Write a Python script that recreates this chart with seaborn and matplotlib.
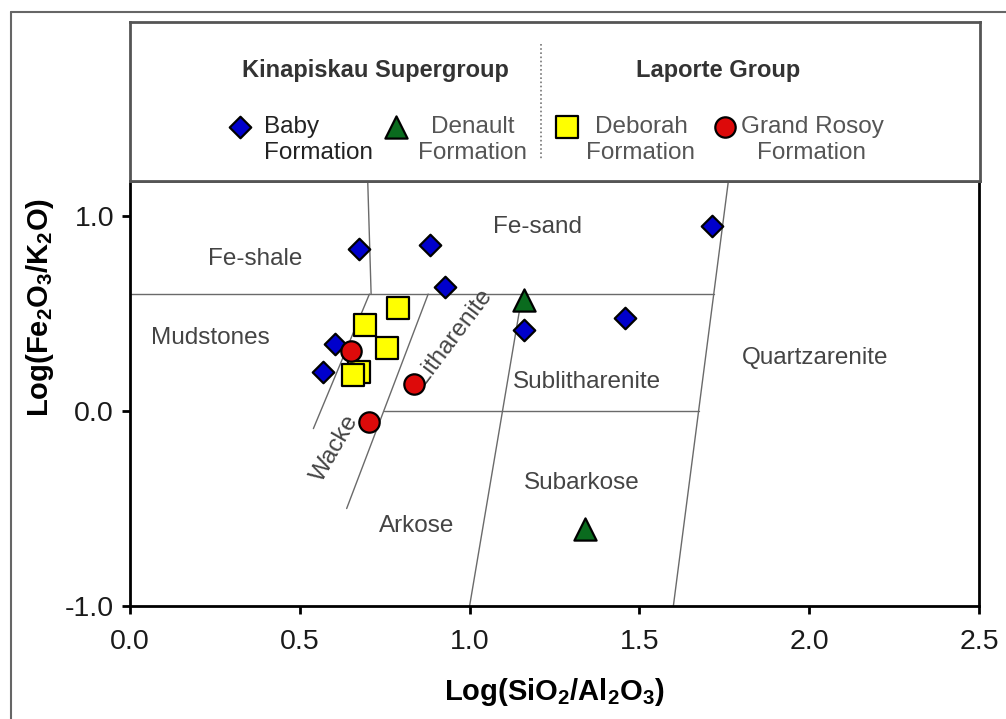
import numpy as np
import pandas as pd
import matplotlib
matplotlib.use("Agg")
import matplotlib.pyplot as plt
from matplotlib.lines import Line2D
import seaborn as sns

# ---------------- data ----------------
baby_x = [0.674, 0.883, 0.928, 1.714, 1.458, 1.160, 0.604, 0.568]
baby_y = [0.830, 0.850, 0.636, 0.949, 0.477, 0.415, 0.344, 0.200]

denault_x = [1.160, 1.340]
denault_y = [0.569, -0.605]

deborah_x = [0.790, 0.692, 0.758, 0.675, 0.656]
deborah_y = [0.527, 0.443, 0.322, 0.198, 0.185]

rosoy_x = [0.650, 0.836, 0.705]
rosoy_y = [0.309, 0.138, -0.055]

formations = ["Baby", "Denault", "Deborah", "Grand Rosoy"]

# classification boundaries (x list, y list)
boundary_lines = [
    ([0.0, 1.72], [0.60, 0.60]),        # Fe-shale / Fe-sand lower limit
    ([0.70, 0.71], [1.18, 0.60]),       # Fe-shale | Fe-sand
    ([0.705, 0.54], [0.60, -0.09]),     # Mudstones | Wacke
    ([0.878, 0.638], [0.60, -0.50]),    # Wacke | Litharenite/Arkose
    ([0.749, 1.675], [0.0, 0.0]),       # Litharenite/Sublitharenite | Arkose/Subarkose
    ([1.155, 1.0], [0.60, -1.0]),       # Sublitharenite/Subarkose | Litharenite/Arkose
    ([1.762, 1.60], [1.18, -1.0]),      # Quartzarenite
]

region_labels = ["Fe-shale", "Fe-sand", "Mudstones", "Litharenite", "Wacke",
                 "Sublitharenite", "Quartzarenite", "Subarkose", "Arkose"]
region_x = [0.368, 1.200, 0.236, 0.951, 0.603, 1.346, 2.017, 1.331, 0.845]
region_y = [0.780, 0.945, 0.374, 0.383, -0.190, 0.150, 0.272, -0.368, -0.590]
region_rot = [0, 0, 0, 53, 60, 0, 0, 0, 0]

x_ticks = [0.0, 0.5, 1.0, 1.5, 2.0, 2.5]
x_ticklabels = ["0.0", "0.5", "1.0", "1.5", "2.0", "2.5"]
y_ticks = [-1.0, 0.0, 1.0]
y_ticklabels = ["-1.0", "0.0", "1.0"]

# ---------------- style ----------------
sns.set_theme(style="white")
plt.rcParams["font.family"] = ["Liberation Sans", "DejaVu Sans"]
plt.rcParams["mathtext.fontset"] = "custom"
plt.rcParams["mathtext.rm"] = "Liberation Sans"
plt.rcParams["mathtext.bf"] = "Liberation Sans:bold"

W, H = 1006, 719
fig = plt.figure(figsize=(W / 100, H / 100), dpi=100)
fig.patch.set_facecolor("white")

def fx(px):
    return px / W

def fy(py):
    return 1 - py / H

# main axes: pixel box left 130, right 979, top 181, bottom 606
ax = fig.add_axes([fx(130), fy(606), fx(979) - fx(130), fy(181) - fy(606)])

df = pd.DataFrame({
    "x": baby_x + denault_x + deborah_x + rosoy_x,
    "y": baby_y + denault_y + deborah_y + rosoy_y,
    "formation": (["Baby"] * len(baby_x) + ["Denault"] * len(denault_x)
                  + ["Deborah"] * len(deborah_x) + ["Grand Rosoy"] * len(rosoy_x)),
})

styles = {
    "Baby": dict(marker="D", s=120, color="#0000CC"),
    "Denault": dict(marker="^", s=255, color="#0A6B1E"),
    "Deborah": dict(marker="s", s=240, color="#FFFF00"),
    "Grand Rosoy": dict(marker="o", s=215, color="#DD0A0A"),
}

for bx, by in boundary_lines:
    ax.plot(bx, by, color="#6a6a6a", lw=1.0, zorder=1)

for i, f in enumerate(formations):
    st = styles[f]
    sns.scatterplot(data=df[df["formation"] == f], x="x", y="y", ax=ax,
                    marker=st["marker"], s=st["s"], color=st["color"],
                    edgecolor="black", linewidth=1.6, legend=False, zorder=3 + i)

for lab, lx, ly, rot in zip(region_labels, region_x, region_y, region_rot):
    ax.text(lx, ly, lab, ha="center", va="center", rotation=rot,
            fontsize=17.5, color="#444444", rotation_mode="anchor", zorder=2)

ax.set_xlim(0, 2.5)
ax.set_ylim(-1.0, 1.18)
ax.set_xticks(x_ticks)
ax.set_xticklabels(x_ticklabels)
ax.set_yticks(y_ticks)
ax.set_yticklabels(y_ticklabels)
ax.tick_params(axis="both", direction="out", length=6, width=2, color="black",
               labelsize=20.5, labelcolor="#1a1a1a", bottom=True, left=True)
ax.tick_params(axis="x", pad=10.5)
ax.tick_params(axis="y", pad=5.5)
for side in ["left", "bottom", "right"]:
    ax.spines[side].set_color("black")
    ax.spines[side].set_linewidth(2.0)
ax.spines["top"].set_color("#555555")
ax.spines["top"].set_linewidth(2.0)

ax.set_xlabel(r"Log(SiO$_\mathbf{2}$/Al$_\mathbf{2}$O$_\mathbf{3}$)", fontsize=21,
              fontweight="bold", color="black", va="center")
ax.set_ylabel(r"Log(Fe$_\mathbf{2}$O$_\mathbf{3}$/K$_\mathbf{2}$O)", fontsize=21,
              fontweight="bold", color="black", va="center")
ax.xaxis.set_label_coords(0.5, (606 - 692) / 425)
ax.yaxis.set_label_coords((40 - 130) / 849, (606 - 308) / 425)

# ---------------- legend box ----------------
lg = fig.add_axes([fx(130), fy(181), fx(980) - fx(130), fy(22) - fy(181)])
lg.set_xlim(0, 850)
lg.set_ylim(159, 0)
lg.set_xticks([])
lg.set_yticks([])
for sp in lg.spines.values():
    sp.set_color("#555555")
    sp.set_linewidth(2.0)
lg.set_facecolor("white")

lg.text(245, 48, "Kinapiskau Supergroup", ha="center", va="center",
        fontsize=17, fontweight="bold", color="#333333")
lg.text(588, 48, "Laporte Group", ha="center", va="center",
        fontsize=17, fontweight="bold", color="#333333")
lg.plot([411, 411], [22, 138], color="#777777", lw=1.2, ls=(0, (1, 1.5)))

leg_mx = [110, 266, 437, 595]
for f, mx in zip(formations, leg_mx):
    st = styles[f]
    lg.scatter([mx], [105], marker=st["marker"], s=st["s"], color=st["color"],
               edgecolor="black", linewidth=1.6, zorder=3)

lg.text(134, 118, "Baby\nFormation", ha="left", va="center", fontsize=17.5,
        color="#222222", linespacing=1.22)
lg.text(343, 118, "Denault\nFormation", ha="center", va="center", fontsize=17.5,
        color="#555555", linespacing=1.22)
lg.text(511, 118, "Deborah\nFormation", ha="center", va="center", fontsize=17.5,
        color="#555555", linespacing=1.22)
lg.text(682, 118, "Grand Rosoy\nFormation", ha="center", va="center", fontsize=17.5,
        color="#555555", linespacing=1.22)

# ---------------- outer frame ----------------
fig.add_artist(Line2D([fx(11), fx(11)], [fy(12), 0], transform=fig.transFigure,
                      color="#666666", lw=1.5))
fig.add_artist(Line2D([fx(11), 1], [fy(12), fy(12)], transform=fig.transFigure,
                      color="#666666", lw=1.5))

fig.savefig("out.png", dpi=100, facecolor="white")
